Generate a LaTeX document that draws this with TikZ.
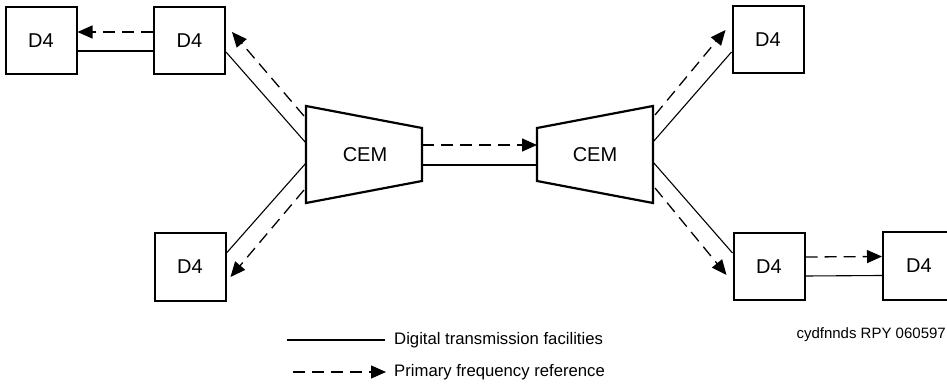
\documentclass[tikz,border=0pt]{standalone}
\usepackage{fontspec}
\setmainfont{Liberation Sans}
\usetikzlibrary{arrows.meta}
\begin{document}
\begin{tikzpicture}[x=1pt,y=-1pt,
  dfour/.style={draw,line width=2pt,minimum width=71pt,minimum height=67pt,inner sep=0pt,font=\fontsize{20}{24}\selectfont},
  cemshape/.style={draw,line width=2.2pt,line join=miter},
  cemtext/.style={inner sep=0pt,font=\fontsize{20}{24}\selectfont},
  fac/.style={line width=1.1pt},
  ref/.style={line width=1.3pt,dash pattern=on 12pt off 7pt,-{Triangle[length=15pt,width=13pt]}},
  legtext/.style={anchor=west,inner sep=0pt,font=\fontsize{16.7}{20}\selectfont},
  codetext/.style={anchor=east,inner sep=0pt,font=\fontsize{15}{18}\selectfont}]
\clip (0,0) rectangle (947,387);
% D4 boxes
\node[dfour] (A) at (41,40.5) {D4};
\node[dfour] (B) at (189.5,40.5) {D4};
\node[dfour] (C) at (190,267) {D4};
\node[dfour] (D) at (768,40) {D4};
\node[dfour] (E) at (769,266.5) {D4};
\node[dfour,minimum width=80pt] (F) at (923,266) {\hspace*{-8pt}D4};
% CEMs
\draw[cemshape] (306,106) -- (422,128) -- (422,181) -- (306,203) -- cycle;
\draw[cemshape] (537,128) -- (653,106) -- (653,203) -- (537,181) -- cycle;
\node[cemtext] (cemL) at (365,155) {CEM};
\node[cemtext] (cemR) at (595,155) {CEM};
% connection points of the CEMs
\coordinate (l1) at (304,116);
\coordinate (l2) at (306,143);
\coordinate (l3) at (306,163);
\coordinate (l4) at (304,190);
\coordinate (lo1) at (422,145);
\coordinate (lo2) at (422,165);
\coordinate (ri1) at (537,145);
\coordinate (ri2) at (537,165);
\coordinate (r1) at (655,115);
\coordinate (r2) at (653,142);
\coordinate (r3) at (653,162);
\coordinate (r4) at (655,188);
% left pair
\draw[ref] ([yshift=8.5pt]B.west) -- ([yshift=8.5pt]A.east);
\draw[fac] ([yshift=-10.5pt]B.west) -- ([yshift=-10.5pt]A.east);
% left CEM to D4s
\draw[ref] (l1) -- ([xshift=6pt,yshift=8.5pt]B.east);
\draw[fac] (l2) -- ([yshift=-11.5pt]B.east);
\draw[fac] (l3) -- ([yshift=14pt]C.east);
\draw[ref] (l4) -- ([xshift=4pt,yshift=-10pt]C.east);
% between CEMs
\draw[ref] (lo1) -- (ri1);
\draw[fac] (lo2) -- (ri2);
% right CEM to D4s
\draw[ref] (r1) -- ([xshift=-6pt,yshift=10pt]D.west);
\draw[fac] (r2) -- ([yshift=-12pt]D.west);
\draw[fac] (r3) -- ([yshift=13.5pt]E.west);
\draw[ref] (r4) -- ([xshift=-6pt,yshift=-8.5pt]E.west);
% right pair
\draw[ref] ([yshift=9.5pt]E.east) -- ([yshift=9.5pt]F.west);
\draw[fac] ([yshift=-9.5pt]E.east) -- ([yshift=-9.5pt]F.west);
% legend
\coordinate (lg1a) at (287,340);
\coordinate (lg1b) at (385,340);
\coordinate (lg2a) at (293,372);
\coordinate (lg2b) at (386,372);
\draw[fac] (lg1a) -- (lg1b);
\draw[ref] (lg2a) -- (lg2b);
\node[legtext] (t1) at (394,340) {Digital transmission facilities};
\node[legtext] (t2) at (394,372) {Primary frequency reference};
\node[codetext] (code) at (946,335) {cydfnnds RPY 060597};
\end{tikzpicture}
\end{document}
